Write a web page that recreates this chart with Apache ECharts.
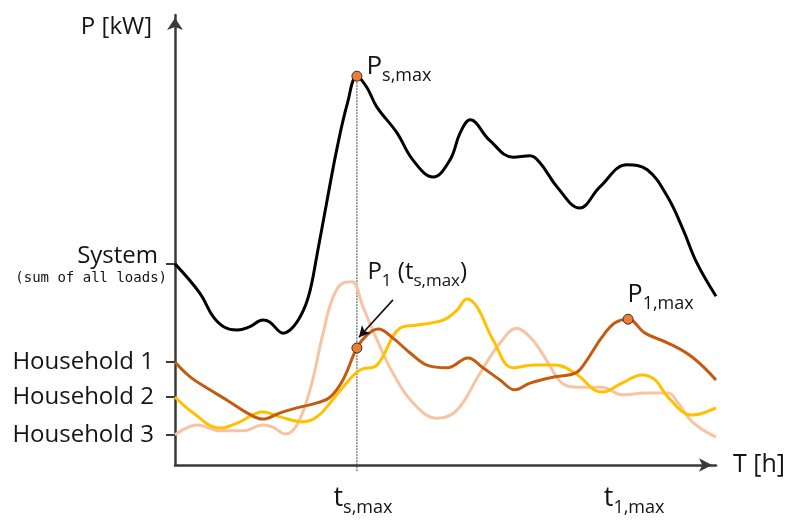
<!DOCTYPE html>
<html><head><meta charset="utf-8">
<script src="https://cdn.jsdelivr.net/npm/echarts@6/dist/echarts.min.js"></script>
<style>html,body{margin:0;padding:0;background:#fff}#c{width:792px;height:520px}</style>
</head><body><div id="c"></div>
<script>
// x: time [h], y: power [kW] (arbitrary units)
const systemLoad = [[0,44.7],[1.1,38.2],[1.7,32.9],[2.2,30.6],[2.75,30.0],[3.3,30.7],[3.9,32.2],[4.2,31.8],[4.8,29.3],[5.25,30.7],[5.7,34.4],[6.0,38.9],[6.3,46.7],[6.75,58.9],[7.2,70.7],[7.65,80.4],[8.07,86.4],[8.5,84.0],[8.95,79.6],[9.85,73.8],[10.55,67.8],[11.45,64.0],[12.2,67.8],[12.65,73.8],[13.1,76.7],[13.95,72.2],[15.0,68.4],[15.75,68.7],[16.2,67.1],[16.95,61.8],[17.95,57.1],[18.85,61.8],[20.05,66.7],[20.95,65.6],[21.85,59.6],[22.55,52.2],[23.15,44.9],[24,37.5]];
const household1 = [[0,22.9],[0.67,19.6],[1.55,16.7],[2.31,14.4],[3.19,11.6],[3.9,10.2],[4.66,11.6],[5.41,12.7],[6.3,13.8],[6.88,15.1],[7.45,18.9],[8.07,26.0],[8.52,28.9],[9.01,30.2],[9.67,28.2],[10.43,24.9],[11.18,22.2],[12.07,21.6],[13.0,23.8],[13.66,21.6],[14.42,18.9],[15.08,16.7],[15.75,18.2],[16.86,19.6],[17.75,20.4],[18.19,22.7],[18.94,28.4],[19.52,31.6],[20.1,32.4],[20.85,29.3],[21.87,27.1],[22.94,24.0],[24,18.9]];
const household2 = [[0,15.1],[0.8,11.6],[2.0,8.2],[2.75,9.3],[3.9,11.8],[4.66,10.7],[5.68,9.6],[6.3,10.7],[6.88,13.8],[7.45,17.3],[8.21,21.1],[8.96,22.2],[9.98,30.4],[10.74,31.1],[11.89,32.2],[12.51,34.4],[12.95,36.9],[13.4,35.1],[14.11,27.8],[15.0,21.6],[15.97,22.2],[16.86,22.2],[17.75,20.4],[18.94,16.2],[19.83,18.2],[20.72,20.0],[21.3,18.9],[21.87,15.1],[22.94,11.1],[24,12.7]];
const household3 = [[0,6.7],[0.98,8.9],[2.0,7.6],[3.02,7.6],[3.9,8.9],[4.35,8.4],[4.88,6.9],[5.41,8.9],[5.99,16.7],[6.57,29.3],[7.01,37.3],[7.45,40.4],[7.85,40.7],[8.34,35.1],[8.96,27.8],[9.67,20.4],[10.56,13.8],[11.62,10.4],[12.51,12.2],[13.53,20.4],[14.42,27.1],[15.17,30.4],[15.75,28.4],[16.19,25.6],[16.55,22.7],[17.17,18.2],[17.88,17.3],[18.94,17.3],[19.83,15.6],[20.85,16.0],[21.87,16.0],[22.32,13.8],[22.94,9.6],[24,6.2]];
const seriesNames = ['System', 'Household 1', 'Household 2', 'Household 3'];
const arrowFrom = [9.67, 36.7];
const arrowTo = [8.16, 28.4];

const FONT = 'Open Sans';
const TXT = '#141414';
const AX = '#3a3a3a';

function maxPoint(arr){ return arr.reduce((a,b)=> b[1] > a[1] ? b : a); }
const sysPeak = maxPoint(systemLoad);          // P_s,max
const tsMax = sysPeak[0];
const p1AtTs = household1.find(p => Math.abs(p[0]-tsMax) < 1e-6);
const p1Peak = maxPoint(household1);           // P_1,max
const t1Max = p1Peak[0];

const tickVals = [systemLoad[0][1], household1[0][1], household2[0][1], household3[0][1]];

// main glyph and subscript tokens (bottom-aligned; main lifted by bottom padding)
const mainTok = (size, padLeft) => ({fontSize:size, lineHeight:36, verticalAlign:'bottom', padding:[0,0,5,padLeft||0], fontFamily:FONT, color:TXT});
const subTok = (size) => ({fontSize:size, lineHeight:36, verticalAlign:'bottom', fontFamily:FONT, color:TXT});

const chart = echarts.init(document.getElementById('c'), null, {renderer:'canvas'});
chart.setOption({
  animation:false,
  textStyle:{fontFamily:FONT, color:TXT},
  grid:{left:175, right:76, top:15, bottom:55, containLabel:false, outerBoundsMode:'none'},
  xAxis:{
    type:'value', min:0, max:24,
    name:'T [h]', nameLocation:'end', nameGap:17,
    nameTextStyle:{fontSize:25, color:TXT, align:'left', verticalAlign:'middle', fontFamily:FONT},
    axisLine:{show:true, symbol:['none','arrow'], symbolSize:[10,13], symbolOffset:[0,-4], lineStyle:{color:AX, width:2.5}},
    axisTick:{show:false},
    splitLine:{show:false},
    axisLabel:{
      customValues:[tsMax, t1Max], margin:16, color:TXT,
      formatter:v => Math.abs(v-tsMax) < 1e-6 ? '{t|t}{s|s,max}' : '{t|t}{s|1,max}',
      rich:{ t: mainTok(27, 12), s: subTok(18) }
    }
  },
  yAxis:{
    type:'value', min:0, max:100,
    name:'P [kW]', nameLocation:'end', nameGap:-12,
    nameTextStyle:{fontSize:24, color:TXT, align:'right', verticalAlign:'middle', padding:[0,23,0,0], fontFamily:FONT},
    axisLine:{show:true, symbol:['none','arrow'], symbolSize:[12,12], symbolOffset:[0,-3], lineStyle:{color:AX, width:2.5}},
    axisTick:{show:true, customValues:tickVals, length:9, lineStyle:{color:AX, width:2}},
    splitLine:{show:false},
    axisLabel:{
      customValues:tickVals, margin:8, color:TXT,
      formatter:v => {
        const i = tickVals.findIndex(t => Math.abs(t-v) < 1e-6);
        if (i === 0) return '{a|System}\n{b|(sum of all loads)}';
        return '{h|' + seriesNames[i] + '}';
      },
      rich:{
        a:{fontSize:24, lineHeight:30, color:TXT, fontFamily:FONT, padding:[0,9,0,0]},
        b:{fontSize:14, lineHeight:16, color:TXT, fontFamily:'DejaVu Sans Mono'},
        h:{fontSize:24, lineHeight:30, color:TXT, fontFamily:FONT, padding:[0,13,0,0]}
      }
    }
  },
  series:[
    {name:seriesNames[3], type:'line', data:household3, smooth:0.4, showSymbol:false, silent:true,
      lineStyle:{color:'#f6c4a3', width:3}},
    {name:seriesNames[2], type:'line', data:household2, smooth:0.4, showSymbol:false, silent:true,
      lineStyle:{color:'#ffc000', width:3}},
    {name:seriesNames[1], type:'line', data:household1, smooth:0.4, showSymbol:false, silent:true,
      lineStyle:{color:'#c55a11', width:3},
      markLine:{silent:true, symbol:['none','arrow'], symbolSize:[9,11], label:{show:false},
        lineStyle:{color:'#111', width:1.6, type:'solid'},
        data:[[{coord:arrowFrom},{coord:arrowTo}]]}},
    {name:seriesNames[0], type:'line', data:systemLoad, smooth:0.4, showSymbol:false, silent:true,
      lineStyle:{color:'#000', width:3}},
    {name:'guide', type:'line', data:[[tsMax, sysPeak[1]],[tsMax, -1.6]], clip:false, showSymbol:false, silent:true,
      lineStyle:{color:'#444', width:1, type:[2,1]}, z:1},
    {name:'points', type:'scatter', silent:true, symbolSize:10, z:5,
      itemStyle:{color:'#ed7d31', borderColor:'#333', borderWidth:1, opacity:1},
      label:{color:TXT},
      data:[
        {value:sysPeak, label:{show:true, position:[15,-22], align:'left', verticalAlign:'top', color:TXT,
          formatter:'{P|P}{s|s,max}', rich:{P:mainTok(26), s:subTok(18)}}},
        {value:p1AtTs, label:{show:true, position:[16,-89], align:'left', verticalAlign:'top', color:TXT,
          formatter:'{P|P}{s|1}{P| (t}{s|s,max}{P|)}', rich:{P:mainTok(24), s:subTok(17)}}},
        {value:p1Peak, label:{show:true, position:[5,-37], align:'left', verticalAlign:'top', color:TXT,
          formatter:'{P|P}{s|1,max}', rich:{P:mainTok(25), s:subTok(18)}}}
      ]}
  ]
});
</script></body></html>
